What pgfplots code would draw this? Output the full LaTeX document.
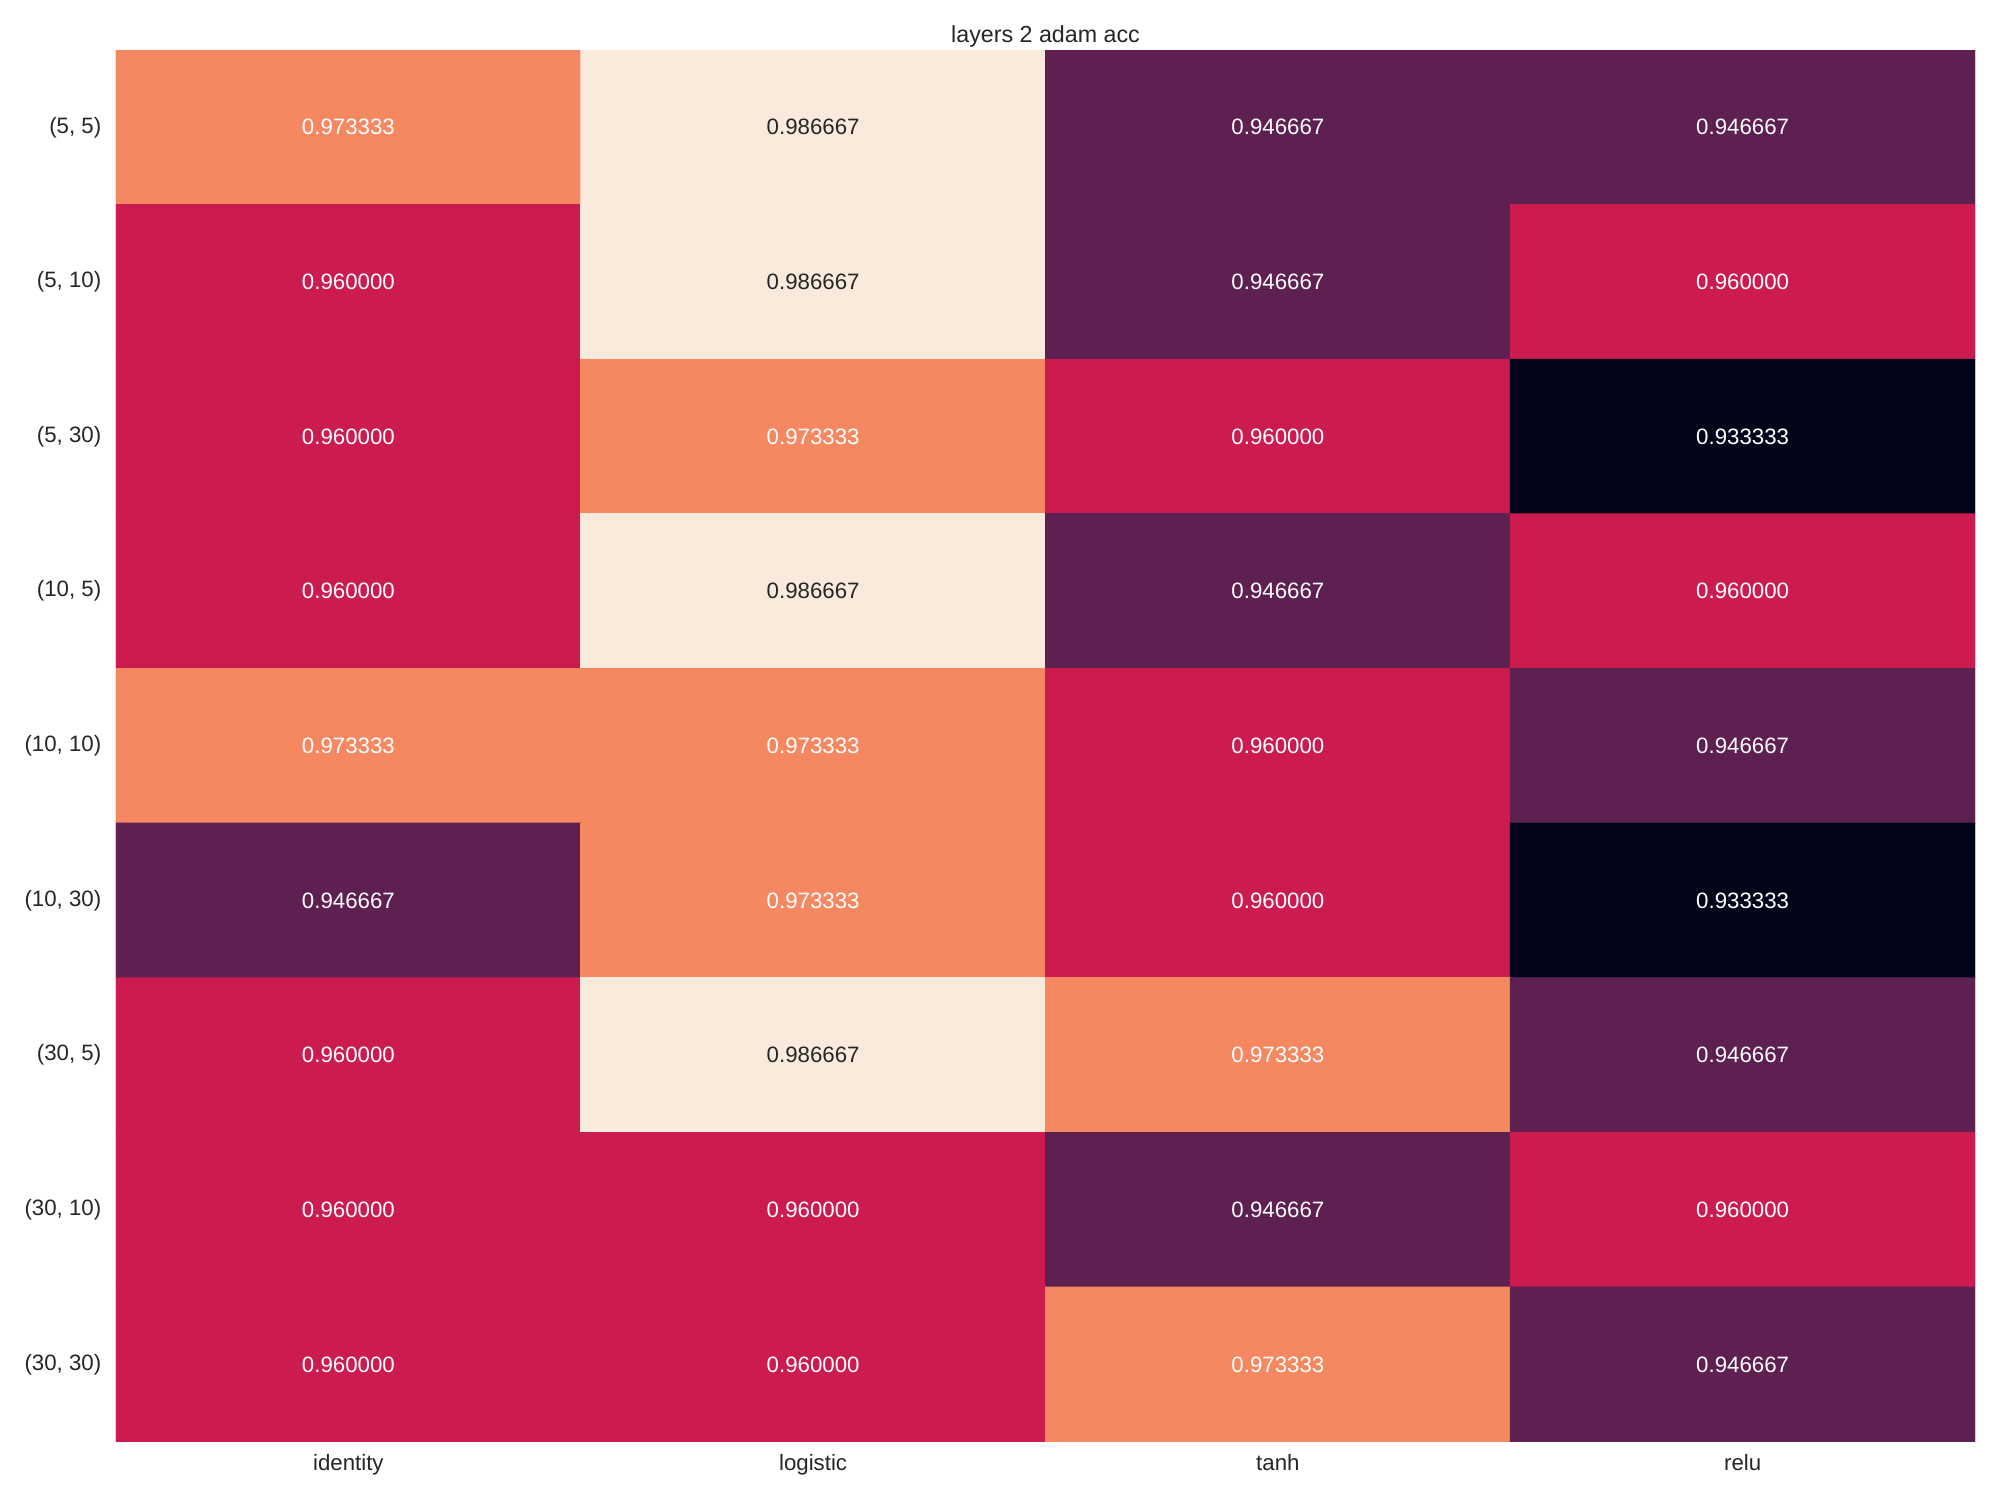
\documentclass[border=0pt]{standalone}
\usepackage{pgfplots}
\pgfplotsset{compat=1.18}
\usepackage{fontspec}
\setmainfont{Liberation Sans}
\definecolor{txt}{RGB}{38,38,38}
\pgfplotsset{colormap={rocket}{rgb255=(3,5,26) rgb255=(94,31,81) rgb255=(203,27,79) rgb255=(245,135,97) rgb255=(250,234,220)}}
\begin{document}
\begin{tikzpicture}
\path[use as bounding box, fill=white] (0,0) rectangle (800pt,600pt);
\begin{axis}[
  at={(46.4pt,23.33pt)}, anchor=south west,
  scale only axis, width=743.6pt, height=556.67pt,
  xmin=-0.5, xmax=3.5, ymin=-0.5, ymax=8.5, y dir=reverse,
  axis line style={draw=none}, major tick length=0pt,
  xtick={0,1,2,3}, xticklabels={identity,logistic,tanh,relu},
  ytick={0,...,8}, yticklabels={{(5, 5)},{(5, 10)},{(5, 30)},{(10, 5)},{(10, 10)},{(10, 30)},{(30, 5)},{(30, 10)},{(30, 30)}},
  ticklabel style={font=\fontsize{8.9pt}{10pt}\selectfont, text=txt},
  xticklabel style={anchor=base, inner sep=0pt, yshift=-11.6pt},
  yticklabel style={anchor=east, inner sep=0pt, xshift=-5.7pt},
  title={layers 2 adam acc},
  title style={anchor=base, at={(0.5,1)}, yshift=-2.9pt, inner sep=0pt, font=\fontsize{9.3pt}{11pt}\selectfont, text=txt},
  point meta min=0.933333, point meta max=0.986667,
  colormap name=rocket,
]
\addplot[matrix plot*, mesh/cols=4, point meta=explicit, draw=none] table[meta=v] {
x y v
0 0 0.973333
1 0 0.986667
2 0 0.946667
3 0 0.946667
0 1 0.960000
1 1 0.986667
2 1 0.946667
3 1 0.960000
0 2 0.960000
1 2 0.973333
2 2 0.960000
3 2 0.933333
0 3 0.960000
1 3 0.986667
2 3 0.946667
3 3 0.960000
0 4 0.973333
1 4 0.973333
2 4 0.960000
3 4 0.946667
0 5 0.946667
1 5 0.973333
2 5 0.960000
3 5 0.933333
0 6 0.960000
1 6 0.986667
2 6 0.973333
3 6 0.946667
0 7 0.960000
1 7 0.960000
2 7 0.946667
3 7 0.960000
0 8 0.960000
1 8 0.960000
2 8 0.973333
3 8 0.946667
};
\addplot[only marks, mark=none, nodes near coords, point meta=explicit symbolic,
  every node near coord/.style={anchor=center, inner sep=0pt, text=white, font=\fontsize{8.9pt}{10pt}\selectfont}] table[meta=t] {
x y t
0 0 0.973333
2 0 0.946667
3 0 0.946667
0 1 0.960000
2 1 0.946667
3 1 0.960000
0 2 0.960000
1 2 0.973333
2 2 0.960000
3 2 0.933333
0 3 0.960000
2 3 0.946667
3 3 0.960000
0 4 0.973333
1 4 0.973333
2 4 0.960000
3 4 0.946667
0 5 0.946667
1 5 0.973333
2 5 0.960000
3 5 0.933333
0 6 0.960000
2 6 0.973333
3 6 0.946667
0 7 0.960000
1 7 0.960000
2 7 0.946667
3 7 0.960000
0 8 0.960000
1 8 0.960000
2 8 0.973333
3 8 0.946667
};
\addplot[only marks, mark=none, nodes near coords, point meta=explicit symbolic,
  every node near coord/.style={anchor=center, inner sep=0pt, text=txt, font=\fontsize{8.9pt}{10pt}\selectfont}] table[meta=t] {
x y t
1 0 0.986667
1 1 0.986667
1 3 0.986667
1 6 0.986667
};
\end{axis}
\end{tikzpicture}
\end{document}
